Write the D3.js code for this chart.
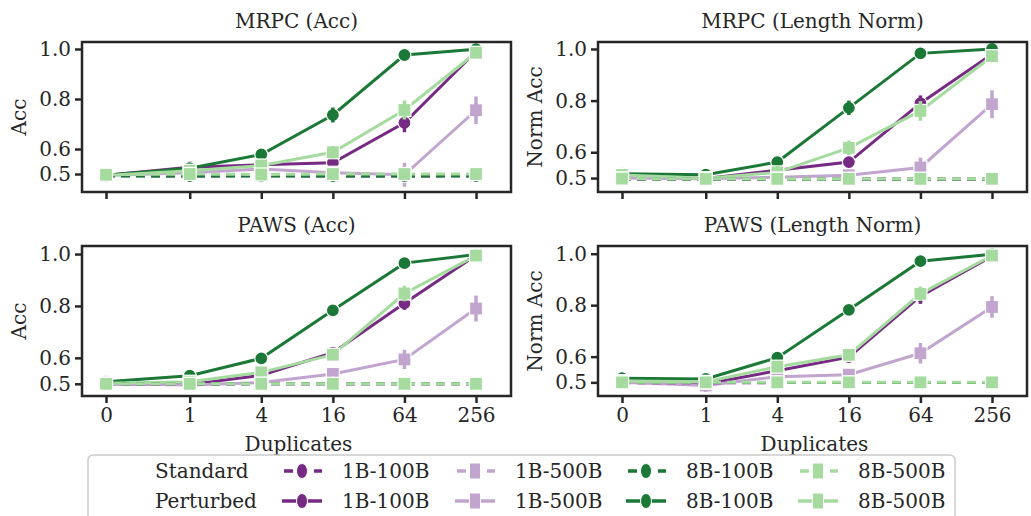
<!DOCTYPE html>
<html>
<head>
<meta charset="utf-8">
<script src="https://cdn.jsdelivr.net/npm/d3@7"></script>
<style>
  body { margin: 0; background: #fff; }
  svg { display: block; font-family: "DejaVu Serif", serif; }
</style>
</head>
<body>
<div id="app"></div>
<script>
// x categories and legend names
const duplicates = [0, 1, 4, 16, 64, 256];
const models = ['1B-100B', '1B-500B', '8B-100B', '8B-500B'];
const colors = ['#762a83', '#c2a5cf', '#1b7837', '#a6dba0'];
const shapes = ['circle', 'square', 'circle', 'square'];
const yTicks = [0.5, 0.6, 0.8, 1.0];

// MRPC (Acc)
const mrpcAccPert = [
  [0.495, 0.527, 0.537, 0.545, 0.705, 0.990],
  [0.494, 0.505, 0.520, 0.505, 0.497, 0.755],
  [0.495, 0.523, 0.578, 0.736, 0.976, 0.999],
  [0.494, 0.513, 0.534, 0.587, 0.756, 0.985]
];
const mrpcAccErr = [
  [0.004, 0.010, 0.010, 0.015, 0.038, 0.015],
  [0.004, 0.015, 0.018, 0.015, 0.048, 0.055],
  [0.004, 0.012, 0.012, 0.030, 0.008, 0.005],
  [0.004, 0.020, 0.020, 0.025, 0.038, 0.012]
];
const mrpcAccStd = [
  [0.493, 0.492, 0.493, 0.492, 0.492, 0.493],
  [0.494, 0.495, 0.494, 0.494, 0.495, 0.494],
  [0.492, 0.492, 0.492, 0.492, 0.492, 0.492],
  [0.497, 0.500, 0.498, 0.500, 0.500, 0.500]
];

// MRPC (Length Norm)
const mrpcNormPert = [
  [0.505, 0.498, 0.530, 0.562, 0.790, 0.980],
  [0.500, 0.497, 0.503, 0.511, 0.541, 0.786],
  [0.517, 0.513, 0.562, 0.772, 0.983, 1.000],
  [0.512, 0.499, 0.522, 0.617, 0.760, 0.972]
];
const mrpcNormErr = [
  [0.004, 0.008, 0.010, 0.020, 0.030, 0.015],
  [0.004, 0.008, 0.010, 0.015, 0.038, 0.054],
  [0.004, 0.010, 0.015, 0.028, 0.008, 0.005],
  [0.005, 0.012, 0.025, 0.028, 0.038, 0.015]
];
const mrpcNormStd = [
  [0.497, 0.496, 0.497, 0.497, 0.496, 0.497],
  [0.498, 0.497, 0.498, 0.497, 0.497, 0.498],
  [0.496, 0.496, 0.496, 0.496, 0.496, 0.496],
  [0.498, 0.497, 0.497, 0.497, 0.497, 0.497]
];

// PAWS (Acc)
const pawsAccPert = [
  [0.500, 0.497, 0.533, 0.620, 0.810, 0.995],
  [0.500, 0.495, 0.505, 0.538, 0.594, 0.790],
  [0.508, 0.531, 0.598, 0.783, 0.965, 0.998],
  [0.502, 0.508, 0.544, 0.612, 0.848, 0.994]
];
const pawsAccErr = [
  [0.004, 0.008, 0.010, 0.012, 0.025, 0.008],
  [0.004, 0.008, 0.010, 0.018, 0.037, 0.050],
  [0.005, 0.010, 0.010, 0.012, 0.008, 0.004],
  [0.004, 0.018, 0.012, 0.015, 0.030, 0.010]
];
const pawsAccStd = [
  [0.500, 0.499, 0.500, 0.500, 0.500, 0.500],
  [0.499, 0.499, 0.500, 0.499, 0.500, 0.499],
  [0.500, 0.500, 0.500, 0.500, 0.500, 0.500],
  [0.500, 0.500, 0.500, 0.500, 0.500, 0.500]
];

// PAWS (Length Norm)
const pawsNormPert = [
  [0.503, 0.494, 0.545, 0.598, 0.835, 0.990],
  [0.500, 0.488, 0.522, 0.530, 0.613, 0.793],
  [0.516, 0.513, 0.596, 0.782, 0.971, 0.998],
  [0.505, 0.502, 0.561, 0.607, 0.844, 0.993]
];
const pawsNormErr = [
  [0.004, 0.008, 0.010, 0.015, 0.030, 0.010],
  [0.004, 0.025, 0.010, 0.018, 0.040, 0.042],
  [0.005, 0.010, 0.012, 0.012, 0.008, 0.004],
  [0.004, 0.012, 0.015, 0.018, 0.028, 0.010]
];
const pawsNormStd = [
  [0.499, 0.498, 0.499, 0.499, 0.499, 0.499],
  [0.499, 0.499, 0.499, 0.499, 0.499, 0.499],
  [0.499, 0.499, 0.499, 0.499, 0.499, 0.499],
  [0.500, 0.500, 0.500, 0.500, 0.500, 0.500]
];

const W = 1031, H = 516;
const ink = '#262626';

const panels = [
  { title: 'MRPC (Acc)', ylab: 'Acc', pert: mrpcAccPert, err: mrpcAccErr, std: mrpcAccStd,
    x0: 82, x1: 511, y0: 42, y1: 192, dom: [0.428, 1.028], xlabels: false },
  { title: 'MRPC (Length Norm)', ylab: 'Norm Acc', pert: mrpcNormPert, err: mrpcNormErr, std: mrpcNormStd,
    x0: 598, x1: 1027, y0: 42, y1: 192, dom: [0.446, 1.027], xlabels: false },
  { title: 'PAWS (Acc)', ylab: 'Acc', pert: pawsAccPert, err: pawsAccErr, std: pawsAccStd,
    x0: 82, x1: 511, y0: 246, y1: 396, dom: [0.453, 1.031], xlabels: true },
  { title: 'PAWS (Length Norm)', ylab: 'Norm Acc', pert: pawsNormPert, err: pawsNormErr, std: pawsNormStd,
    x0: 598, x1: 1027, y0: 246, y1: 396, dom: [0.447, 1.030], xlabels: true }
];

// symlog-like position: linear below 1, log base 4 above
const linScale = 1.17;
const sym = d => d <= 1 ? d * linScale : linScale + Math.log(d) / Math.log(4);

const svg = d3.select('#app').append('svg')
  .attr('width', W).attr('height', H)
  .style('background', '#fff');

function drawMarker(g, shape, x, y, color, size) {
  if (shape === 'circle') {
    g.append('circle').attr('cx', x).attr('cy', y).attr('r', size / 2)
      .attr('fill', color).attr('stroke', '#fff').attr('stroke-width', 1.2);
  } else {
    g.append('rect').attr('x', x - size / 2).attr('y', y - size / 2)
      .attr('width', size).attr('height', size)
      .attr('fill', color).attr('stroke', '#fff').attr('stroke-width', 1.2);
  }
}

panels.forEach(p => {
  const xScale = d3.scaleLinear()
    .domain([sym(0), sym(256)])
    .range([p.x0 + 24, p.x1 - 35]);
  const yScale = d3.scaleLinear().domain(p.dom).range([p.y1, p.y0]);

  const g = svg.append('g');

  const line = d3.line()
    .x((d, i) => xScale(sym(duplicates[i])))
    .y(d => yScale(d));

  const clip = 'clip' + p.x0 + '_' + p.y0;
  svg.append('clipPath').attr('id', clip).append('rect')
    .attr('x', p.x0).attr('y', p.y0).attr('width', p.x1 - p.x0).attr('height', p.y1 - p.y0);
  const plot = g.append('g').attr('clip-path', `url(#${clip})`);

  // perturbed (solid) first, standard (dashed) on top
  [['pert', null], ['std', '9,6']].forEach(([key, dash]) => {
    p[key].forEach((vals, s) => {
      const sg = plot.append('g');
      sg.append('path').datum(vals)
        .attr('d', line)
        .attr('fill', 'none')
        .attr('stroke', colors[s])
        .attr('stroke-width', 3)
        .attr('stroke-dasharray', dash);
      vals.forEach((v, i) => {
        drawMarker(sg, shapes[s], xScale(sym(duplicates[i])), yScale(v), colors[s], 13);
      });
      if (key === 'pert') {
        vals.forEach((v, i) => {
          const e = p.err[s][i];
          sg.append('line')
            .attr('x1', xScale(sym(duplicates[i]))).attr('x2', xScale(sym(duplicates[i])))
            .attr('y1', yScale(v - e)).attr('y2', yScale(v + e))
            .attr('stroke', colors[s]).attr('stroke-width', 3.5);
        });
      }
    });
  });

  // frame
  g.append('rect')
    .attr('x', p.x0).attr('y', p.y0)
    .attr('width', p.x1 - p.x0).attr('height', p.y1 - p.y0)
    .attr('fill', 'none').attr('stroke', ink).attr('stroke-width', 2.5);

  // axes
  const yAxis = d3.axisLeft(yScale).tickValues(yTicks)
    .tickFormat(d3.format('.1f')).tickSizeInner(6).tickSizeOuter(0).tickPadding(4);
  const ya = g.append('g').attr('transform', `translate(${p.x0 - 1},0)`).call(yAxis);
  ya.select('.domain').remove();
  ya.selectAll('line').attr('stroke', ink).attr('stroke-width', 2.5);
  ya.selectAll('text').attr('fill', ink).style('font-size', '20px')
    .style('font-family', '"DejaVu Serif", serif');

  const xAxis = d3.axisBottom(xScale).tickValues(duplicates.map(sym))
    .tickFormat((d, i) => p.xlabels ? duplicates[i] : '')
    .tickSizeInner(6).tickSizeOuter(0).tickPadding(5);
  const xa = g.append('g').attr('transform', `translate(0,${p.y1 + 1})`).call(xAxis);
  xa.select('.domain').remove();
  xa.selectAll('line').attr('stroke', ink).attr('stroke-width', 2.5);
  xa.selectAll('text').attr('fill', ink).style('font-size', '20px')
    .style('font-family', '"DejaVu Serif", serif');

  // title
  g.append('text')
    .attr('x', (p.x0 + p.x1) / 2).attr('y', p.y0 - 14)
    .attr('text-anchor', 'middle').attr('fill', ink)
    .style('font-size', '20px')
    .text(p.title);

  // y label
  g.append('text')
    .attr('transform', `translate(${p.x0 - 56},${(p.y0 + p.y1) / 2}) rotate(-90)`)
    .attr('text-anchor', 'middle').attr('fill', ink)
    .style('font-size', '20px')
    .text(p.ylab);

  if (p.xlabels) {
    g.append('text')
      .attr('x', (p.x0 + p.x1) / 2 + 2).attr('y', p.y1 + 55)
      .attr('text-anchor', 'middle').attr('fill', ink)
      .style('font-size', '20px')
      .text('Duplicates');
  }
});

// legend
const leg = svg.append('g');
leg.append('rect')
  .attr('x', 88).attr('y', 455).attr('width', 867).attr('height', 80)
  .attr('rx', 5).attr('fill', '#fff').attr('fill-opacity', 0.8)
  .attr('stroke', '#cccccc').attr('stroke-width', 1.5);

const rowY = [471, 501];
const rowNames = ['Standard', 'Perturbed'];
const colX = [302, 475, 646, 818];
rowNames.forEach((name, r) => {
  leg.append('text').attr('x', 155).attr('y', rowY[r]).attr('dy', '0.35em')
    .attr('fill', ink).style('font-size', '20px').text(name);
  models.forEach((m, s) => {
    const cx = colX[s];
    leg.append('line')
      .attr('x1', cx - 20).attr('x2', cx + 20)
      .attr('y1', rowY[r]).attr('y2', rowY[r])
      .attr('stroke', colors[s]).attr('stroke-width', 3.5)
      .attr('stroke-dasharray', r === 0 ? '9,6' : null)
      .attr('stroke-dashoffset', r === 0 ? -2 : 0);
    if (shapes[s] === 'circle') {
      leg.append('ellipse').attr('cx', cx).attr('cy', rowY[r]).attr('rx', 5.5).attr('ry', 7.5)
        .attr('fill', colors[s]).attr('stroke', '#fff').attr('stroke-width', 1);
    } else {
      leg.append('rect').attr('x', cx - 5.5).attr('y', rowY[r] - 8).attr('width', 11).attr('height', 16)
        .attr('fill', colors[s]).attr('stroke', '#fff').attr('stroke-width', 1);
    }
    leg.append('text').attr('x', cx + 40).attr('y', rowY[r]).attr('dy', '0.35em')
      .attr('fill', ink).style('font-size', '20px').text(m);
  });
});
</script>
</body>
</html>
